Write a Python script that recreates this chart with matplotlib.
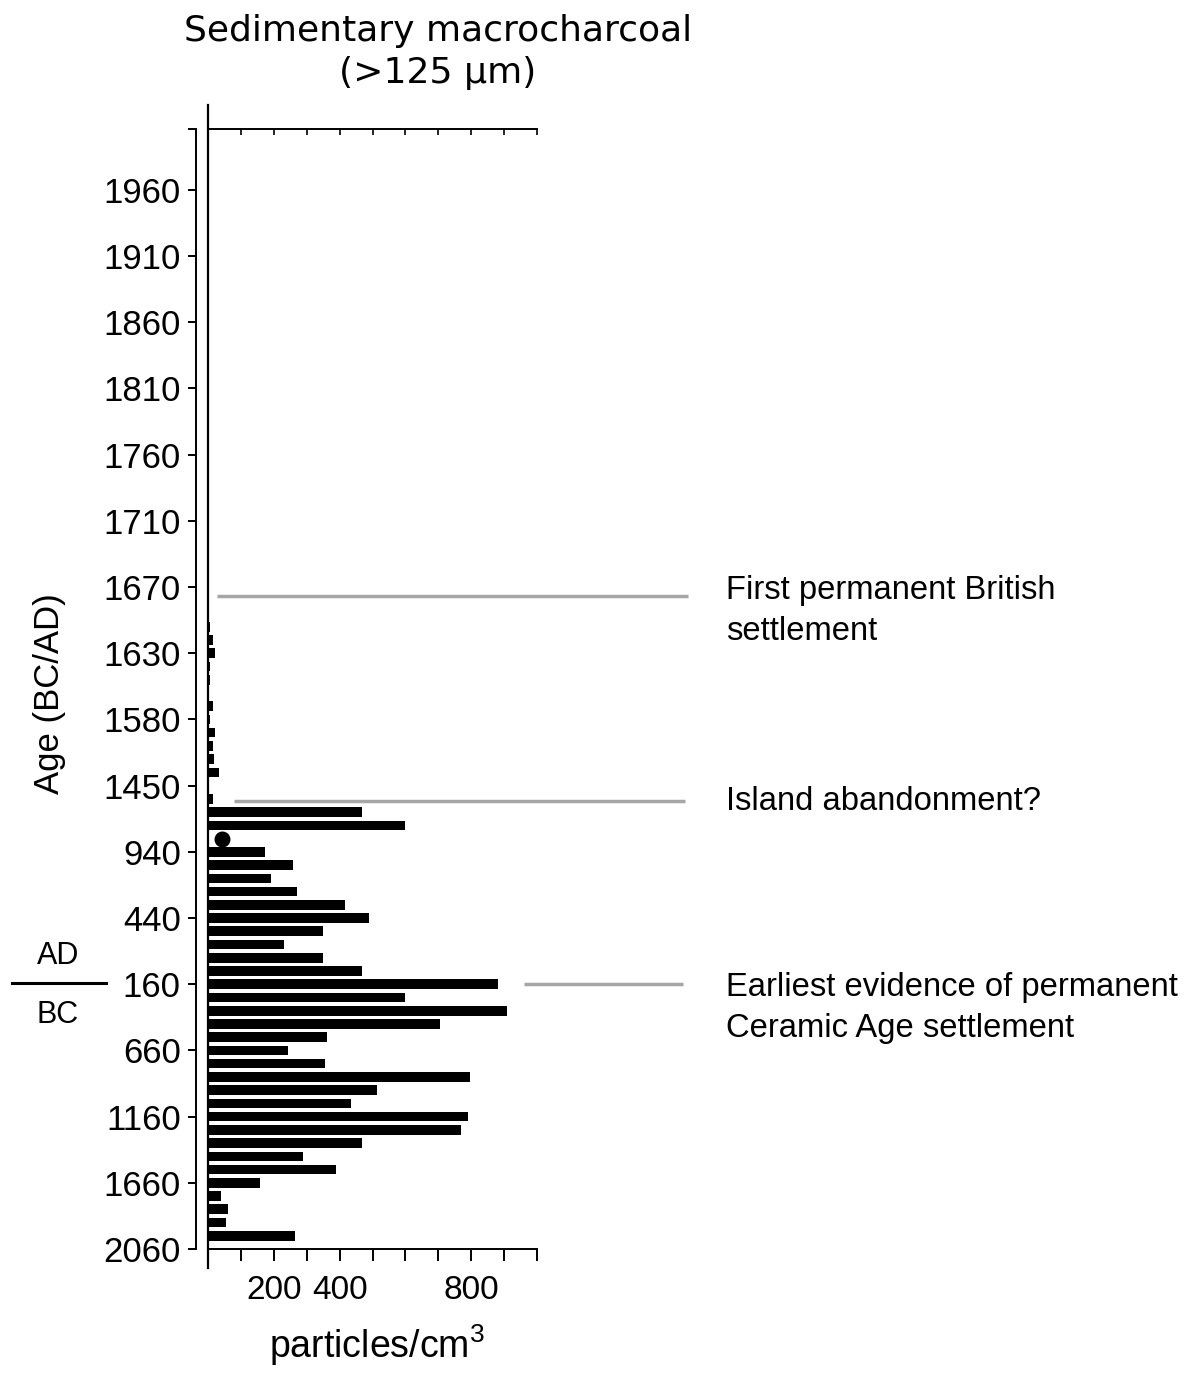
import matplotlib.pyplot as plt

plt.rcParams['font.family'] = ['Liberation Sans', 'DejaVu Sans']
plt.rcParams['mathtext.fontset'] = 'custom'
plt.rcParams['mathtext.rm'] = 'Liberation Sans'
plt.rcParams['mathtext.default'] = 'rm'

# age axis: labels are placed at equal spacing (position 0 = bottom)
age_labels = ['2060', '1660', '1160', '660', '160', '440', '940', '1450',
              '1580', '1630', '1670', '1710', '1760', '1810', '1860', '1910', '1960']
age_pos = [0, 1, 2, 3, 4, 5, 6, 7, 8, 9, 10, 11, 12, 13, 14, 15, 16]

# samples from top to bottom
sample_pos = [9.4, 9.2, 9.0, 8.8, 8.6, 8.4, 8.2, 8.0, 7.8, 7.6, 7.4, 7.2,
              7.0, 6.8, 6.6, 6.4, 6.2, 6.0, 5.8, 5.6, 5.4, 5.2, 5.0, 4.8,
              4.6, 4.4, 4.2, 4.0, 3.8, 3.6, 3.4, 3.2, 3.0, 2.8, 2.6, 2.4,
              2.2, 2.0, 1.8, 1.6, 1.4, 1.2, 1.0, 0.8, 0.6, 0.4, 0.2]
charcoal = [7, 14, 21, 7, 6, 0, 14, 7, 21, 14, 18, 34,
            0, 14, 467, 598, 0, 172, 258, 192, 270, 415, 488, 349,
            230, 349, 467, 882, 598, 908, 705, 362, 244, 356, 796, 514,
            436, 789, 768, 467, 290, 388, 158, 40, 60, 54, 263]

# sample marked with a dot
dot_x = [44]
dot_y = [6.2]

# event lines: (y position, x start, x end)
event_y = [9.86, 6.77, 4.0]
event_x0 = [28, 80, 960]
event_x1 = [1460, 1450, 1445]
event_text = ['First permanent British\nsettlement', 'Island abandonment?',
              'Earliest evidence of permanent\nCeramic Age settlement']
text_px_y = [611, 801, 1008]

x_ticks = [0, 100, 200, 300, 400, 500, 600, 700, 800, 900, 1000]
x_ticklabels = ['', '', '200', '', '400', '', '', '', '800', '', '']

W, H = 1196, 1375
fig = plt.figure(figsize=(W / 100, H / 100), dpi=100)
ax = fig.add_axes([208 / W, 1 - 1249 / H, 329 / W, 1120 / H])

ax.barh(sample_pos, charcoal, height=0.145, color='black', left=0)
ax.scatter(dot_x, dot_y, s=110, color='black', zorder=3)

for y, x0, x1 in zip(event_y, event_x0, event_x1):
    ax.plot([x0, x1], [y, y], color='#a6a6a6', lw=2.5, clip_on=False,
            solid_capstyle='butt')

ax.axvline(0, ymin=-0.017, ymax=1.021, color='black', lw=1.6, clip_on=False)

ax.set_xlim(0, 1000)
ax.set_ylim(0, 16.92)

ax.spines['right'].set_visible(False)
ax.spines['top'].set_visible(False)
ax.spines['left'].set_position(('outward', 8.6))
for s in ['left', 'bottom']:
    ax.spines[s].set_linewidth(1.4)

ax.set_yticks(age_pos + [16.92])
ax.set_yticklabels(age_labels + [''])
ax.tick_params(axis='y', direction='out', length=6, width=1.4,
               labelsize=25, pad=5)

ax.set_xticks(x_ticks)
ax.set_xticklabels(x_ticklabels)
ax.tick_params(axis='x', direction='out', length=8.5, width=1.4,
               labelsize=24, pad=10)

top = ax.secondary_xaxis('top')
top.set_xticks(x_ticks)
top.set_xticklabels([])
top.tick_params(direction='in', length=4, width=1.2)
top.spines['top'].set_linewidth(1.4)

fig.text(50 / W, 1 - 694 / H, 'Age (BC/AD)', rotation=90, fontsize=25,
         ha='center', va='center')
fig.text(377 / W, 1 - 1345 / H, 'particles/cm$^3$', fontsize=27,
         ha='center', va='center')

fig.text(438 / W, 1 - 52 / H, 'Sedimentary macrocharcoal\n(>125 μm)',
         fontsize=26, family='DejaVu Sans', ha='center', va='center',
         linespacing=1.3)

# AD / BC divider
fig.add_artist(plt.Line2D([12 / W, 106 / W], [1 - 983 / H, 1 - 983 / H],
                          color='black', lw=2.2))
fig.text(58 / W, 1 - 956 / H, 'AD', fontsize=22, ha='center', va='center')
fig.text(58 / W, 1 - 1015 / H, 'BC', fontsize=22, ha='center', va='center')

for t, py in zip(event_text, text_px_y):
    fig.text(726 / W, 1 - py / H, t, fontsize=23.6, ha='left', va='center',
             linespacing=1.4)

fig.savefig('out.png', dpi=100)
